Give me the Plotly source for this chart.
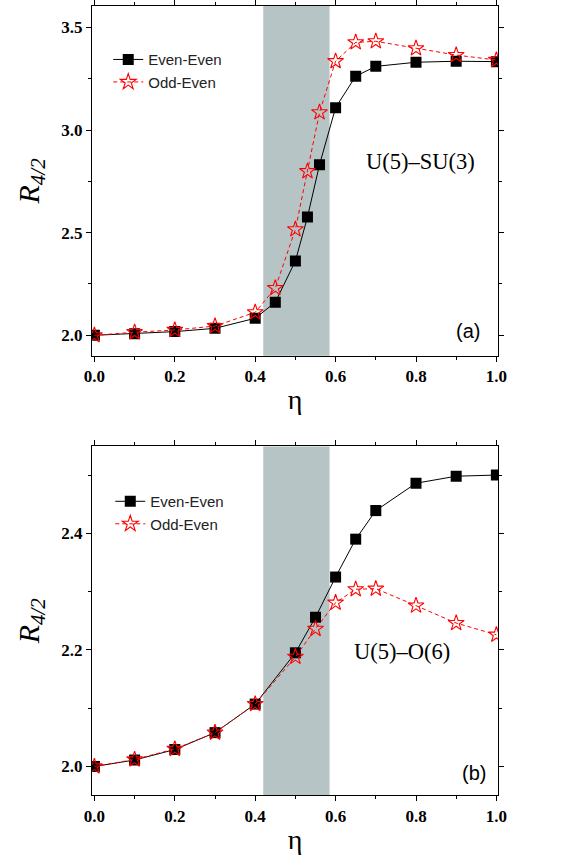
import plotly.graph_objects as go

# ---- data ----
eta_a_even = [0.0, 0.1, 0.2, 0.3, 0.4, 0.45, 0.5, 0.53, 0.56, 0.6, 0.65, 0.7, 0.8, 0.9, 1.0]
r42_a_even = [2.000, 2.008, 2.018, 2.034, 2.083, 2.161, 2.362, 2.576, 2.831, 3.109, 3.262, 3.310, 3.330, 3.335, 3.333]
eta_a_odd = [0.0, 0.1, 0.2, 0.3, 0.4, 0.45, 0.5, 0.53, 0.56, 0.6, 0.65, 0.7, 0.8, 0.9, 1.0]
r42_a_odd = [2.000, 2.015, 2.026, 2.045, 2.112, 2.230, 2.516, 2.799, 3.086, 3.335, 3.427, 3.432, 3.398, 3.365, 3.341]

eta_b_even = [0.0, 0.1, 0.2, 0.3, 0.4, 0.5, 0.55, 0.6, 0.65, 0.7, 0.8, 0.9, 1.0]
r42_b_even = [2.000, 2.011, 2.029, 2.058, 2.107, 2.195, 2.256, 2.325, 2.390, 2.439, 2.486, 2.498, 2.500]
eta_b_odd = [0.0, 0.1, 0.2, 0.3, 0.4, 0.5, 0.55, 0.6, 0.65, 0.7, 0.8, 0.9, 1.0]
r42_b_odd = [2.000, 2.012, 2.030, 2.058, 2.107, 2.188, 2.236, 2.281, 2.304, 2.305, 2.276, 2.246, 2.226]

band = [0.42, 0.585]
series_names = ["Even-Even", "Odd-Even"]
x_ticks = [0.0, 0.2, 0.4, 0.6, 0.8, 1.0]
y_ticks_a = [2.0, 2.5, 3.0, 3.5]
y_ticks_b = [2.0, 2.2, 2.4]

fig = go.Figure()

even_style = dict(mode="lines+markers", line=dict(color="black", width=1),
                  marker=dict(symbol="square", size=11, color="black"))
odd_style = dict(mode="lines+markers", line=dict(color="red", width=1, dash="4px,3px"),
                 marker=dict(symbol="star-open", size=12, color="red", line=dict(width=1.1, color="red")))

fig.add_trace(go.Scatter(x=eta_a_even, y=r42_a_even, name=series_names[0], xaxis="x", yaxis="y",
                         legend="legend", **even_style))
fig.add_trace(go.Scatter(x=eta_a_odd, y=r42_a_odd, name=series_names[1], xaxis="x", yaxis="y",
                         legend="legend", **odd_style))
fig.add_trace(go.Scatter(x=eta_b_even, y=r42_b_even, name=series_names[0], xaxis="x2", yaxis="y2",
                         legend="legend2", **even_style))
fig.add_trace(go.Scatter(x=eta_b_odd, y=r42_b_odd, name=series_names[1], xaxis="x2", yaxis="y2",
                         legend="legend2", **odd_style))

band_color = "#b6c4c6"
fig.add_shape(type="rect", x0=band[0], x1=band[1], xref="x", yref="y domain", y0=0, y1=1,
              fillcolor=band_color, line_width=0, layer="below")
fig.add_shape(type="rect", x0=band[0], x1=band[1], xref="x2", yref="y2 domain", y0=0, y1=1,
              fillcolor=band_color, line_width=0, layer="below")

tickfont = dict(family="Liberation Serif", size=17, color="black", weight="bold")
title_font_eta = dict(family="Liberation Serif", size=28, color="black")
title_font_r = dict(family="Liberation Serif", size=30, color="black")

def xaxis_cfg(anchor):
    return dict(range=[-0.006, 1.004], tickvals=x_ticks, ticktext=[f"{v:.1f}" for v in x_ticks],
                ticks="outside", ticklen=5, tickwidth=1, tickcolor="black",
                minor=dict(dtick=0.1, tick0=0, ticks="outside", ticklen=3, tickcolor="black"),
                showline=True, linecolor="black", linewidth=1.3, mirror="ticks",
                showgrid=False, zeroline=False, tickfont=tickfont, anchor=anchor, automargin=False,
                title=dict(text="η", font=title_font_eta, standoff=4))

def yaxis_cfg(rng, ticks, minor_dtick, domain, anchor):
    return dict(range=rng, tickvals=ticks, ticktext=[f"{v:.1f}" for v in ticks],
                ticks="outside", ticklen=5, tickwidth=1, tickcolor="black",
                minor=dict(dtick=minor_dtick, tick0=2.0, ticks="outside", ticklen=3, tickcolor="black"),
                showline=True, linecolor="black", linewidth=1.3, mirror="ticks",
                showgrid=False, zeroline=False, tickfont=tickfont, domain=domain, anchor=anchor,
                automargin=False,
                title=dict(text="<i>R</i><sub><i>4/2</i></sub>", font=title_font_r, standoff=12))

fig.update_layout(
    width=562, height=858,
    margin=dict(l=92, r=64, t=6, b=63, autoexpand=False),
    paper_bgcolor="white", plot_bgcolor="white",
    xaxis=xaxis_cfg("y"),
    yaxis=yaxis_cfg([1.9, 3.604], y_ticks_a, 0.25, [0.5566, 1.0], "x"),
    xaxis2=xaxis_cfg("y2"),
    yaxis2=yaxis_cfg([1.951, 2.549], y_ticks_b, 0.1, [0.0, 0.4417], "x2"),
    legend=dict(x=0.04, y=0.918, xanchor="left", yanchor="middle", bgcolor="rgba(0,0,0,0)",
                font=dict(family="Liberation Sans", size=15, color="#222"), tracegroupgap=0,
                itemwidth=30),
    legend2=dict(x=0.045, y=0.358, xanchor="left", yanchor="middle", bgcolor="rgba(0,0,0,0)",
                 font=dict(family="Liberation Sans", size=15, color="#222"), tracegroupgap=0,
                 itemwidth=30),
    showlegend=True,
    annotations=[
        dict(text="U(5)–SU(3)", x=0.81, y=2.845, xref="x", yref="y", showarrow=False,
             font=dict(family="Liberation Serif", size=22.5, color="black")),
        dict(text="(a)", x=0.93, y=2.02, xref="x", yref="y", showarrow=False,
             font=dict(family="Liberation Sans", size=20, color="black")),
        dict(text="U(5)–O(6)", x=0.765, y=2.197, xref="x2", yref="y2", showarrow=False,
             font=dict(family="Liberation Serif", size=22.5, color="black")),
        dict(text="(b)", x=0.945, y=1.988, xref="x2", yref="y2", showarrow=False,
             font=dict(family="Liberation Sans", size=20, color="black")),
    ],
)

fig.write_html("out.html", config={"displayModeBar": False},
               post_script="document.body.style.margin='0';document.body.style.overflow='hidden';")
